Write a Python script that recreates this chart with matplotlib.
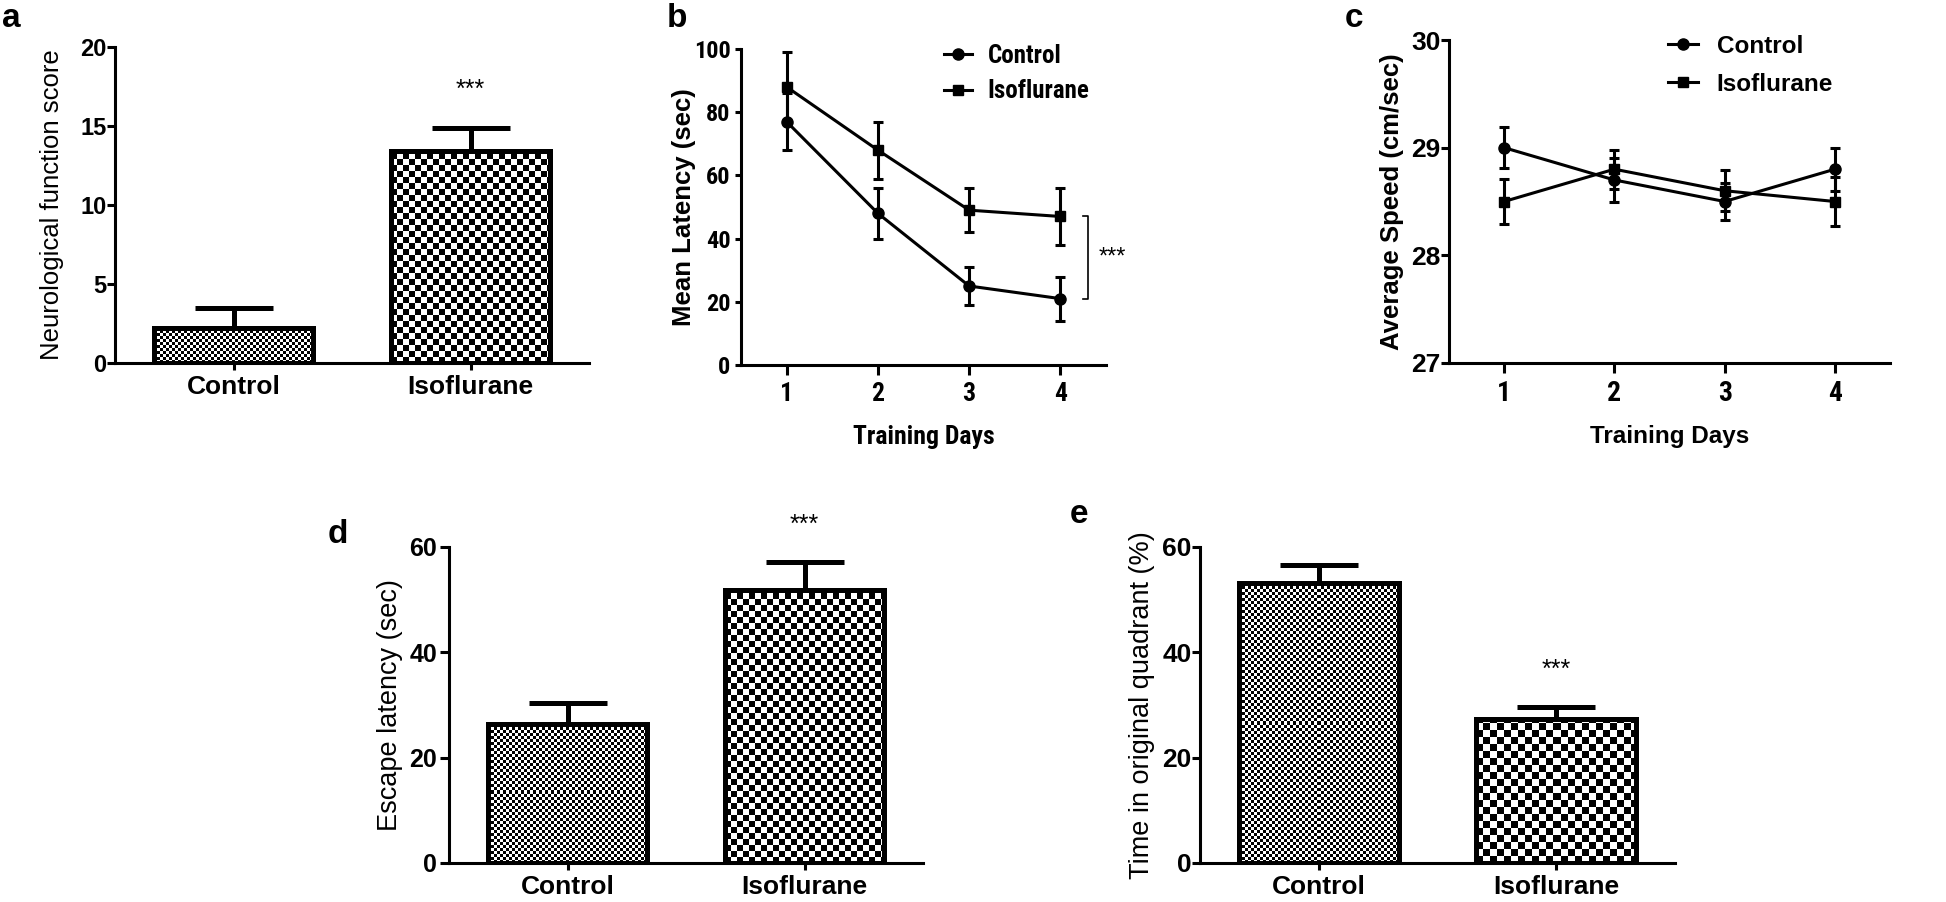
import numpy as np
import matplotlib.pyplot as plt
from matplotlib import font_manager as fm
from matplotlib.lines import Line2D

plt.rcParams['font.family'] = 'Liberation Sans'
plt.rcParams['font.weight'] = 'bold'
plt.rcParams['axes.labelweight'] = 'bold'


# panel b uses a condensed bold face in the original
def find_narrow():
    prefs = ['Liberation Sans Narrow', 'Arial Narrow', 'Roboto Condensed', 'DejaVu Sans']
    for name in prefs:
        for f in fm.fontManager.ttflist:
            w = f.weight if isinstance(f.weight, int) else (700 if 'bold' in str(f.weight) else 400)
            narrow = 'Narrow' in f.name or 'Condensed' in f.name or 'condensed' in str(f.stretch) \
                or 'Condensed' in f.fname
            if f.name.startswith(name.split()[0]) and narrow and w >= 600 and f.style == 'normal':
                return f.fname
    return None


NARROW_PATH = find_narrow()


def narrow(size):
    if NARROW_PATH:
        return fm.FontProperties(fname=NARROW_PATH, size=size)
    return fm.FontProperties(family='Liberation Sans', weight='bold', size=size * 0.86)


# data
groups = ['Control', 'Isoflurane']
neuro_mean = [2.2, 13.4]
neuro_err = [1.3, 1.5]

days = [1, 2, 3, 4]
lat_ctrl = [77, 48, 25, 21]
lat_ctrl_err = [9, 8, 6, 7]
lat_iso = [88, 68, 49, 47]
lat_iso_err = [11, 9, 7, 9]

spd_ctrl = [29.0, 28.7, 28.5, 28.8]
spd_ctrl_err = [0.19, 0.2, 0.17, 0.2]
spd_iso = [28.5, 28.8, 28.6, 28.5]
spd_iso_err = [0.21, 0.18, 0.19, 0.23]

escape_mean = [26.4, 51.8]
escape_err = [4.0, 5.3]
quad_mean = [53.2, 27.3]
quad_err = [3.4, 2.3]

W, H = 1946, 902
fig = plt.figure(figsize=(W / 100, H / 100), dpi=100)


def px_axes(left, top, right, bottom):
    return fig.add_axes([left / W, 1 - bottom / H, (right - left) / W, (bottom - top) / H])


ax_a = px_axes(115, 47, 589, 363)
ax_b = px_axes(741, 49, 1106, 365)
ax_c = px_axes(1449, 40, 1890, 363)
ax_d = px_axes(449, 547, 923, 863)
ax_e = px_axes(1200, 547, 1675, 863)


def style(ax):
    for s in ['top', 'right']:
        ax.spines[s].set_visible(False)
    for s in ['left', 'bottom']:
        ax.spines[s].set_linewidth(2.2)


def ylab(ax, text, xpx, **kw):
    ax.set_ylabel(text, va='center', ha='center', **kw)
    bb = ax.get_position()
    ax.yaxis.set_label_coords((xpx / W - bb.x0) / bb.width, 0.5)


def checker(ax, bar, cell):
    x0, y0 = bar.get_x(), bar.get_y()
    w, h = bar.get_width(), bar.get_height()
    (p0x, p0y), (p1x, p1y) = ax.transData.transform([(x0, y0), (x0 + w, y0 + h)])
    nx, ny = int(round(p1x - p0x)), int(round(p1y - p0y))
    jj, ii = np.meshgrid(np.arange(nx), np.arange(ny))
    arr = (ii // cell + jj // cell) % 2
    im = ax.imshow(arr, cmap='gray', vmin=0, vmax=1, extent=(x0, x0 + w, y0, y0 + h),
                   origin='lower', interpolation='nearest', aspect='auto', zorder=1)
    im.set_clip_path(bar)


def bar_panel(ax, means, errs, ymax, yticks, cells, ytick_size, ytick_len, ytick_pad):
    style(ax)
    ax.set_xlim(-0.5, 1.5)
    ax.set_ylim(0, ymax)
    x = np.arange(len(groups))
    bars = ax.bar(x, means, width=0.675, facecolor='none', edgecolor='black',
                  linewidth=3.6, zorder=3)
    for b, c in zip(bars, cells):
        checker(ax, b, c)
    ax.errorbar(x, means, yerr=[np.zeros(len(means)), errs], fmt='none', ecolor='black',
                elinewidth=3.6, capsize=28, capthick=3.6, zorder=2)
    ax.set_xlim(-0.5, 1.5)
    ax.set_ylim(0, ymax)
    ax.set_yticks(yticks)
    ax.set_xticks(x)
    ax.set_xticklabels(groups)
    ax.tick_params(axis='y', width=2.2, length=ytick_len, pad=ytick_pad, labelsize=ytick_size)
    ax.tick_params(axis='x', width=2.2, length=5, pad=4, labelsize=19)
    return x


# a
xa = bar_panel(ax_a, neuro_mean, neuro_err, 20, [0, 5, 10, 15, 20], (3, 6), 17, 5.5, 0.5)
ax_a.annotate('***', (xa[1], neuro_mean[1] + neuro_err[1]), xytext=(0, 27),
              textcoords='offset points', ha='center', va='center', fontsize=18, fontweight='normal')
ylab(ax_a, 'Neurological function score', 52, fontsize=18.5, fontweight='normal')

# d
xd = bar_panel(ax_d, escape_mean, escape_err, 60, [0, 20, 40, 60], (3, 6), 18, 6.5, 2)
ax_d.annotate('***', (xd[1], escape_mean[1] + escape_err[1]), xytext=(0, 27),
              textcoords='offset points', ha='center', va='center', fontsize=18, fontweight='normal')
ylab(ax_d, 'Escape latency (sec)', 390, fontsize=19.5, fontweight='normal')

# e
xe = bar_panel(ax_e, quad_mean, quad_err, 60, [0, 20, 40, 60], (3, 7), 19, 6, 0)
ax_e.annotate('***', (xe[1], quad_mean[1] + quad_err[1]), xytext=(0, 27),
              textcoords='offset points', ha='center', va='center', fontsize=18, fontweight='normal')
ylab(ax_e, 'Time in original quadrant (%)', 1142, fontsize=19.5, fontweight='normal')


def line_panel(ax, ctrl, ctrl_err, iso, iso_err):
    style(ax)
    ax.errorbar(days, ctrl, yerr=ctrl_err, fmt='none', ecolor='black', elinewidth=2.2,
                capsize=3.6, capthick=2.2, zorder=2)
    ax.errorbar(days, iso, yerr=iso_err, fmt='none', ecolor='black', elinewidth=2.2,
                capsize=3.6, capthick=2.2, zorder=2)
    ax.plot(days, ctrl, color='black', lw=2.2, marker='o', ms=8, zorder=3)
    ax.plot(days, iso, color='black', lw=2.2, marker='s', ms=7.5, zorder=3)
    ax.set_xlim(0.5, 4.5)
    ax.set_xticks(days)


handles = [Line2D([], [], color='black', lw=2.2, marker='o', ms=8),
           Line2D([], [], color='black', lw=2.2, marker='s', ms=7.5)]

# b
line_panel(ax_b, lat_ctrl, lat_ctrl_err, lat_iso, lat_iso_err)
ax_b.set_ylim(0, 100)
ax_b.set_yticks([0, 20, 40, 60, 80, 100])
ax_b.tick_params(axis='y', width=2.2, length=4.5, pad=3)
ax_b.tick_params(axis='x', width=2.2, length=7, pad=5)
for lbl in ax_b.get_yticklabels():
    lbl.set_fontproperties(narrow(17.5))
for lbl in ax_b.get_xticklabels():
    lbl.set_fontproperties(narrow(18.5))
ax_b.set_xlabel('Training Days', fontproperties=narrow(18.5), va='center')
ax_b.xaxis.set_label_coords(0.5, -0.228)
ylab(ax_b, 'Mean Latency (sec)', 684, fontsize=18.5)
bx = 4.3
ax_b.plot([bx - 0.055, bx, bx, bx - 0.055], [lat_iso[-1], lat_iso[-1], lat_ctrl[-1], lat_ctrl[-1]],
          color='black', lw=1.2, clip_on=False)
ax_b.annotate('***', (bx, (lat_iso[-1] + lat_ctrl[-1]) / 2), xytext=(8, 0),
              textcoords='offset points', ha='left', va='center', fontsize=17, fontweight='normal')
ax_b.legend(handles, groups, loc='upper left', bbox_to_anchor=(944 / W, 1 - 44 / H),
            bbox_transform=fig.transFigure, frameon=False, borderpad=0, borderaxespad=0,
            handlelength=1.1, handletextpad=0.65, labelspacing=0.45, prop=narrow(18))

# c
line_panel(ax_c, spd_ctrl, spd_ctrl_err, spd_iso, spd_iso_err)
ax_c.set_ylim(27, 30)
ax_c.set_yticks([27, 28, 29, 30])
ax_c.tick_params(axis='y', width=2.2, length=5.5, pad=0.5, labelsize=19)
ax_c.tick_params(axis='x', width=2.2, length=7, pad=5.5)
for lbl in ax_c.get_xticklabels():
    lbl.set_fontproperties(narrow(20))
ax_c.set_xlabel('Training Days', fontsize=17.5, va='center')
ax_c.xaxis.set_label_coords(0.5, -0.229)
ylab(ax_c, 'Average Speed (cm/sec)', 1392, fontsize=18.5)
ax_c.legend(handles, groups, loc='upper left', bbox_to_anchor=(1668 / W, 1 - 35 / H),
            bbox_transform=fig.transFigure, frameon=False, borderpad=0, borderaxespad=0,
            handlelength=1.23, handletextpad=0.78, labelspacing=0.6,
            prop=dict(weight='bold', size=17.5))

# panel letters
for letter, xp, yp in [('a', 2, 27), ('b', 667, 27), ('c', 1345, 27), ('d', 328, 543), ('e', 1070, 523)]:
    fig.text(xp / W, 1 - yp / H, letter, fontsize=24, fontweight='bold', va='baseline')

fig.savefig('out.png', dpi=100)
